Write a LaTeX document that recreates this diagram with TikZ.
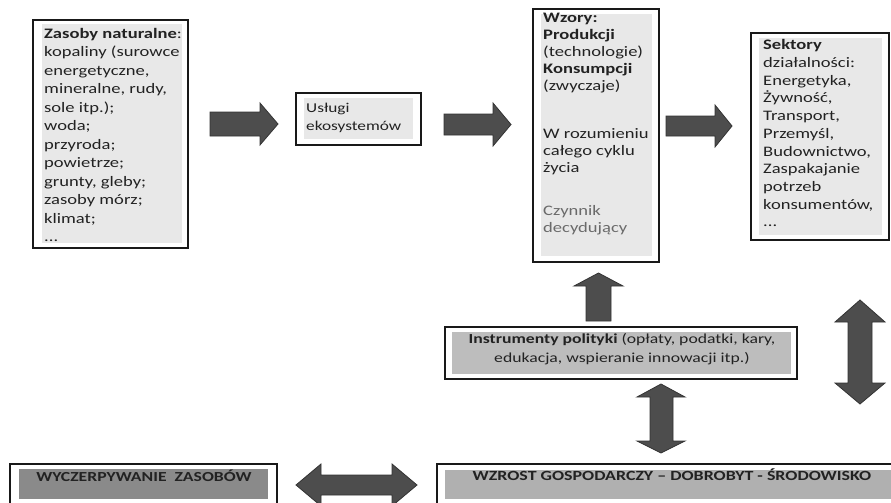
\documentclass[tikz,border=0pt]{standalone}
\usepackage{fontspec}
\setmainfont{Carlito}[FakeStretch=1.28]
\definecolor{lightg}{HTML}{E8E8E8}
\definecolor{midg}{HTML}{BDBDBD}
\definecolor{wzg}{HTML}{B0B0B0}
\definecolor{darkg}{HTML}{8A8A8A}
\definecolor{arrowf}{HTML}{4D4D4D}
\definecolor{arrowd}{HTML}{333333}
\definecolor{txtc}{HTML}{222222}
\definecolor{greytxt}{HTML}{6A6A6A}
\begin{document}
\begin{tikzpicture}[x=1pt,y=-1pt,
  outerbox/.style={draw=black!90,line width=1.1pt,fill=white},
  txt/.style={inner sep=0pt,anchor=north west,align=left,text=txtc,font=\fontsize{14.5}{18.5}\selectfont},
  ctxt/.style={inner sep=0pt,anchor=north,align=center,text=txtc,font=\fontsize{13.8}{19}\selectfont},
  blockarrow/.style={fill=arrowf,draw=arrowd,line width=0.8pt,line join=miter}]
\useasboundingbox (0,0) rectangle (891,503);
\clip (0,0) rectangle (891,503);

% Box 1: Zasoby naturalne
\draw[outerbox] (33,20) rectangle (188,248);
\fill[lightg] (42,24) rectangle (182,243);
\node[txt] (zasoby) at (44,28) {\textbf{Zasoby naturalne}:\\kopaliny (surowce\\energetyczne,\\mineralne, rudy,\\sole itp.);\\woda;\\przyroda;\\powietrze;\\grunty, gleby;\\zasoby mórz;\\klimat;\\...};

% Box 2: Uslugi
\draw[outerbox] (296,93) rectangle (421,145);
\fill[lightg] (304,98) rectangle (413,139);
\node[txt,font=\fontsize{13.5}{18}\selectfont] (uslugi) at (306,103) {Usługi\\ekosystemów};

% Box 3: Wzory
\draw[outerbox] (533,9) rectangle (659,262);
\fill[lightg] (541,14) rectangle (652,256);
\node[txt,font=\fontsize{14.5}{17.2}\selectfont] (wzory) at (543,12.5) {\textbf{Wzory:}\\\textbf{Produkcji}\\(technologie)\\\textbf{Konsumpcji}\\(zwyczaje)\\[30pt]W rozumieniu\\całego cyklu\\życia\\[26pt]\textcolor{greytxt}{Czynnik}\\\textcolor{greytxt}{decydujący}};

% Box 4: Sektory
\draw[outerbox] (751,33) rectangle (889,240);
\fill[lightg] (759,38) rectangle (882,235);
\node[txt,font=\fontsize{14.5}{17.7}\selectfont] (sektory) at (763,39.5) {\textbf{Sektory}\\działalności:\\Energetyka,\\Żywność,\\Transport,\\Przemyśl,\\Budownictwo,\\Zaspakajanie\\potrzeb\\konsumentów,\\...};

% Box 5: Instrumenty
\draw[outerbox] (445,327) rectangle (797,379);
\fill[midg] (452,332) rectangle (791,374);
\node[ctxt] (instr) at (622,333.5) {\textbf{Instrumenty polityki} (opłaty, podatki, kary,\\edukacja, wspieranie innowacji itp.)};

% Box 6: WZROST
\draw[outerbox] (437,464) rectangle (900,520);
\fill[wzg] (445,470) rectangle (900,499);
\node[ctxt,font=\fontsize{14}{17}\selectfont] (wzrost) at (672,469) {\textbf{WZROST GOSPODARCZY – DOBROBYT - ŚRODOWISKO}};

% Box 7: WYCZERPYWANIE
\draw[outerbox] (10,464) rectangle (277,520);
\fill[darkg] (19,469) rectangle (268,499);
\node[ctxt,font=\fontsize{13.8}{17}\selectfont] (wyczerp) at (144,469.5) {\textbf{WYCZERPYWANIE\ \ ZASOBÓW}};

% Right arrows
\draw[blockarrow] (210,112) -- (260,112) -- (260,103) -- (278,124) -- (260,145) -- (260,136) -- (210,136) -- cycle;
\draw[blockarrow] (444,114) -- (493,114) -- (493,103) -- (511,124.5) -- (493,146) -- (493,135) -- (444,135) -- cycle;
\draw[blockarrow] (666,116) -- (715,116) -- (715,105) -- (732,126) -- (715,147) -- (715,136) -- (666,136) -- cycle;

% Up arrow
\draw[blockarrow] (586,321) -- (586,286) -- (574,286) -- (598.5,273) -- (623,286) -- (611,286) -- (611,321) -- cycle;

% Vertical double arrow (middle)
\draw[blockarrow] (650,397) -- (637,397) -- (661,384) -- (685,397) -- (673,397) -- (673,441) -- (685,441) -- (661,453) -- (637,441) -- (650,441) -- cycle;

% Vertical double arrow (right)
\draw[blockarrow] (848,322) -- (835,322) -- (860,300) -- (885,322) -- (872,322) -- (872,383) -- (885,383) -- (860,404) -- (835,383) -- (848,383) -- cycle;

% Horizontal double arrow
\draw[blockarrow] (321,475) -- (321,464) -- (296,485) -- (321,506) -- (321,495) -- (392,495) -- (392,506) -- (417,485) -- (392,464) -- (392,475) -- cycle;
\end{tikzpicture}
\end{document}
